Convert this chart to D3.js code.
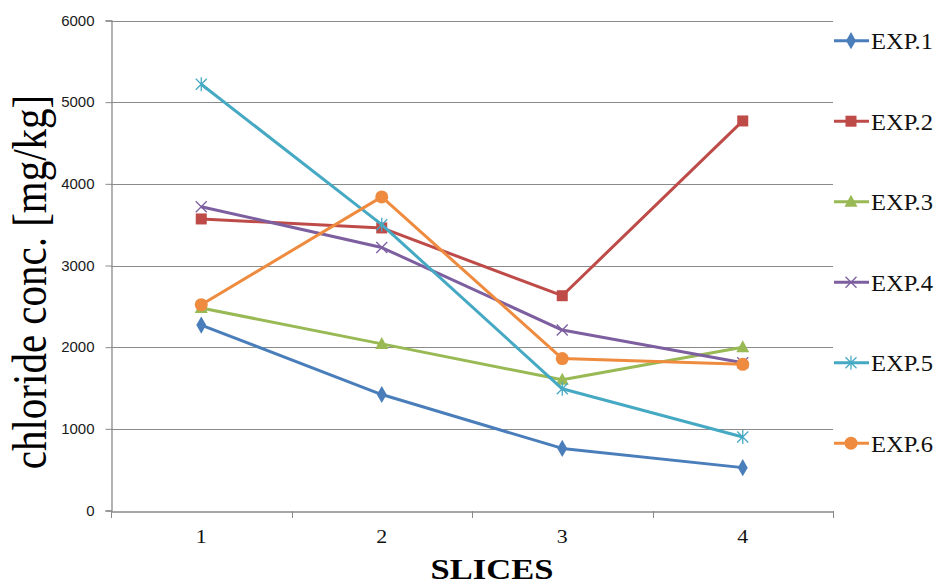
<!DOCTYPE html>
<html>
<head>
<meta charset="utf-8">
<script src="https://cdn.jsdelivr.net/npm/d3@7"></script>
<style>
  html, body { margin: 0; padding: 0; background: #fff; }
  svg { display: block; }
</style>
</head>
<body>
<svg id="chart" width="938" height="584"></svg>
<script>
// ---- data ----
const categories = ["1", "2", "3", "4"];
const seriesNames = ["EXP.1", "EXP.2", "EXP.3", "EXP.4", "EXP.5", "EXP.6"];
const exp1 = [2270, 1420, 760, 525];
const exp2 = [3570, 3460, 2630, 4770];
const exp3 = [2480, 2040, 1600, 2000];
const exp4 = [3720, 3220, 2210, 1810];
const exp5 = [5220, 3500, 1490, 900];
const exp6 = [2520, 3840, 1860, 1790];
const yTicks = [0, 1000, 2000, 3000, 4000, 5000, 6000];
const yLabel = "chloride conc. [mg/kg]";
const xLabel = "SLICES";

const seriesValues = [exp1, exp2, exp3, exp4, exp5, exp6];
const colors = ["#4A7EBB", "#BE4B48", "#98B954", "#7D5FA0", "#46A9C3", "#EE8B3E"];
const markers = ["diamond", "square", "triangle", "x", "star", "circle"];

// ---- layout ----
const svg = d3.select("#chart");
const plotLeft = 111, plotRight = 833, plotTop = 20.5, plotBottom = 510.5;

const x = d3.scaleBand().domain(categories).range([plotLeft, plotRight]).padding(0);
const y = d3.scaleLinear().domain([0, 6000]).range([plotBottom, plotTop]);

const gridColor = "#8a8a8a";

// gridlines
svg.append("g").selectAll("line").data(yTicks.filter(d => d > 0)).join("line")
  .attr("x1", plotLeft).attr("x2", plotRight)
  .attr("y1", d => Math.round(y(d)) + 0.5).attr("y2", d => Math.round(y(d)) + 0.5)
  .attr("stroke", gridColor).attr("stroke-width", 1);

// y axis
const yAxis = svg.append("g").attr("transform", `translate(${plotLeft + 0.5},0)`)
  .call(d3.axisLeft(y).tickValues(yTicks).tickSize(6).tickFormat(d3.format("d")));
yAxis.select(".domain").attr("stroke", gridColor).attr("stroke-width", 1.3);
yAxis.selectAll(".tick line").attr("stroke", gridColor).attr("stroke-width", 1);
yAxis.selectAll(".tick text")
  .attr("x", -17)
  .attr("font-family", "'Liberation Sans', Arial, sans-serif")
  .attr("font-size", 15).attr("fill", "#1a1a1a");

// x axis
const xAxis = svg.append("g").attr("transform", `translate(0,${Math.round(plotBottom) + 0.5})`)
  .call(d3.axisBottom(x).tickSize(0).tickFormat(d => d));
xAxis.select(".domain").attr("stroke", gridColor).attr("stroke-width", 1.3);
xAxis.selectAll(".tick text").remove();
// boundary ticks
const bounds = categories.map(c => x(c)).concat([x(categories[categories.length - 1]) + x.bandwidth()]);
svg.append("g").selectAll("line").data(bounds).join("line")
  .attr("x1", d => Math.round(d) + 0.5).attr("x2", d => Math.round(d) + 0.5)
  .attr("y1", Math.round(plotBottom)).attr("y2", Math.round(plotBottom) + 7)
  .attr("stroke", gridColor).attr("stroke-width", 1);
// category labels
svg.append("g").selectAll("text").data(categories).join("text")
  .attr("transform", d => `translate(${x(d) + x.bandwidth() / 2},543) scale(1.15,1)`)
  .attr("text-anchor", "middle")
  .attr("font-family", "'Liberation Serif', 'Times New Roman', serif")
  .attr("font-size", 19).attr("fill", "#111")
  .text(d => d);

// axis titles
svg.append("text")
  .attr("transform", "translate(46,282) scale(1.2,1) rotate(-90)")
  .attr("text-anchor", "middle")
  .attr("font-family", "'Liberation Serif', 'Times New Roman', serif")
  .attr("font-size", 41).attr("fill", "#000")
  .text(yLabel);

svg.append("text")
  .attr("transform", "translate(492,579) scale(1.17,1)")
  .attr("text-anchor", "middle")
  .attr("font-family", "'Liberation Serif', 'Times New Roman', serif")
  .attr("font-weight", "bold")
  .attr("font-size", 29.5).attr("fill", "#000")
  .text(xLabel);

// ---- markers ----
function drawMarker(g, type, color) {
  if (type === "diamond") {
    g.append("path").attr("d", d3.symbol(d3.symbolDiamond, 85)()).attr("fill", color);
  } else if (type === "square") {
    g.append("rect").attr("x", -5.5).attr("y", -5.5).attr("width", 11).attr("height", 11).attr("fill", color);
  } else if (type === "triangle") {
    g.append("path").attr("d", "M0,-7L6.5,5L-6.5,5Z").attr("fill", color);
  } else if (type === "x") {
    g.append("path").attr("d", "M-5.5,-5.5L5.5,5.5M-5.5,5.5L5.5,-5.5").attr("stroke", color).attr("stroke-width", 1.3).attr("fill", "none");
  } else if (type === "star") {
    g.append("path").attr("d", "M-5.5,-5.5L5.5,5.5M-5.5,5.5L5.5,-5.5M0,-7L0,7").attr("stroke", color).attr("stroke-width", 1.3).attr("fill", "none");
  } else if (type === "circle") {
    g.append("circle").attr("r", 6.5).attr("fill", color);
  }
}

const line = d3.line()
  .x((d, i) => x(categories[i]) + x.bandwidth() / 2)
  .y(d => y(d));

seriesValues.forEach((vals, si) => {
  const g = svg.append("g");
  g.append("path").datum(vals)
    .attr("d", line)
    .attr("fill", "none")
    .attr("stroke", colors[si])
    .attr("stroke-width", 3)
    .attr("stroke-linejoin", "round");
  vals.forEach((v, i) => {
    const mg = g.append("g")
      .attr("transform", `translate(${x(categories[i]) + x.bandwidth() / 2},${y(v)})`);
    drawMarker(mg, markers[si], colors[si]);
  });
});

// ---- legend ----
const legendY0 = 40.7, legendStep = 80.5;
seriesNames.forEach((name, si) => {
  const ly = legendY0 + si * legendStep;
  const g = svg.append("g");
  g.append("line").attr("x1", 834).attr("x2", 869).attr("y1", ly).attr("y2", ly)
    .attr("stroke", colors[si]).attr("stroke-width", 3);
  const mg = g.append("g").attr("transform", `translate(851,${ly})`);
  drawMarker(mg, markers[si], colors[si]);
  g.append("text")
    .attr("x", 871).attr("y", ly + 8.5)
    .attr("font-family", "'Liberation Serif', 'Times New Roman', serif")
    .attr("font-size", 23)
    .attr("textLength", 62).attr("lengthAdjust", "spacingAndGlyphs")
    .attr("fill", "#111")
    .text(name);
});
</script>
</body>
</html>
